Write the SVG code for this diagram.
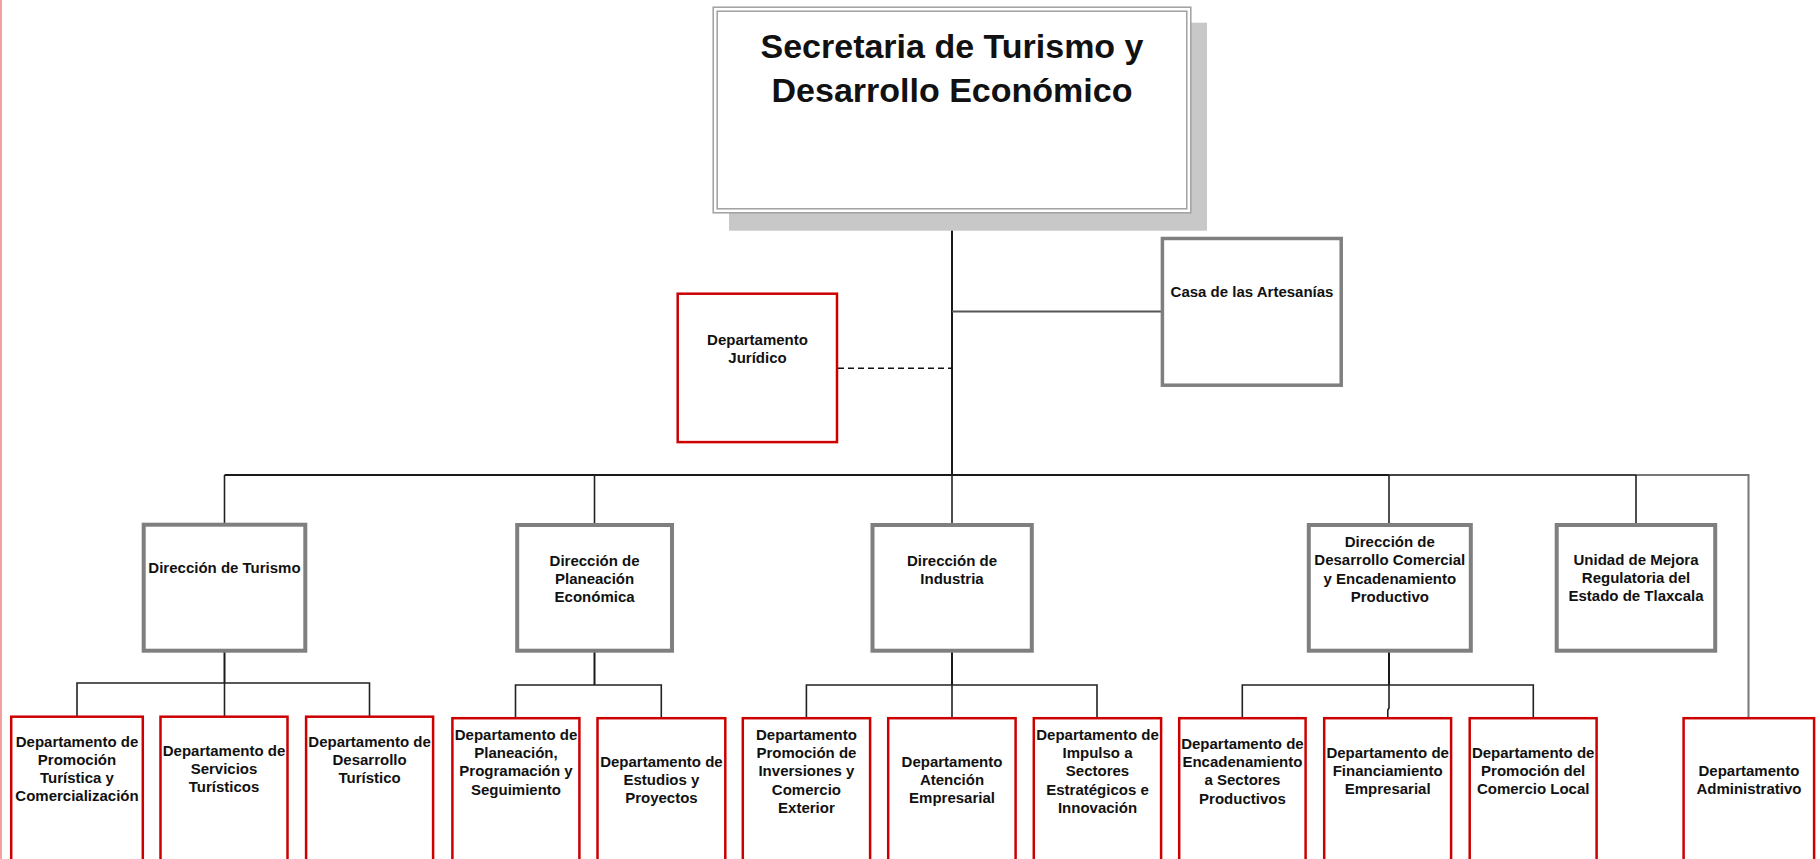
<svg xmlns="http://www.w3.org/2000/svg" width="1820" height="859" viewBox="0 0 1820 859">
<style>
  text { font-family: "Liberation Sans", Arial, sans-serif; font-weight: bold; fill: #111; text-anchor: middle; }
  .t15 { font-size: 15px; }
  .title { font-size: 34px; }
  .dir { fill: #fff; stroke: #7f7f7f; stroke-width: 4; }
  .dept { fill: #fff; stroke: #cc0000; stroke-width: 2.5; }
  .conn { fill: none; stroke: #222; stroke-width: 1.6; }
  .conn2 { fill: none; stroke: #1a1a1a; stroke-width: 2; }
  .gray { fill: none; stroke: #777; stroke-width: 2; }
</style>
<rect x="0" y="0" width="1820" height="859" fill="#fff"/>
<line x1="1" y1="0" x2="1" y2="859" stroke="#f2a0a0" stroke-width="2"/>

<g id="connectors">
  <line class="conn2" x1="952" y1="213" x2="952" y2="475"/>
  <line x1="952" y1="311.5" x2="1161" y2="311.5" stroke="#555" stroke-width="2"/>
  <line x1="838" y1="368.3" x2="952" y2="368.3" stroke="#111" stroke-width="1.5" stroke-dasharray="6 4"/>
  <line class="conn2" x1="224.5" y1="475" x2="1389" y2="475" stroke="#333"/>
  <line x1="1389" y1="475" x2="1636" y2="475" stroke="#444" stroke-width="2"/>
  <path class="gray" d="M1636 475 H1748.5 V717"/>
  <line class="conn" x1="224.5" y1="475" x2="224.5" y2="523"/>
  <line class="conn" x1="594.5" y1="475" x2="594.5" y2="523"/>
  <line class="conn" x1="952" y1="475" x2="952" y2="523"/>
  <line class="conn" x1="1389" y1="475" x2="1389" y2="523"/>
  <line class="conn" x1="1636" y1="475" x2="1636" y2="523"/>
  <!-- Turismo -->
  <line class="conn2" x1="224.5" y1="652" x2="224.5" y2="683"/>
  <path class="conn" d="M77 716 V683 H369.5 V716 M224.5 683 V716"/>
  <!-- Planeacion -->
  <line class="conn2" x1="594.5" y1="652" x2="594.5" y2="685"/>
  <path class="conn" d="M515.5 717 V685 H661.3 V717"/>
  <!-- Industria -->
  <line class="conn2" x1="952" y1="652" x2="952" y2="685"/>
  <path class="conn" d="M806.4 717 V685 H1097 V717 M952 685 V717"/>
  <!-- Comercial -->
  <line class="conn2" x1="1389" y1="652" x2="1389" y2="685"/>
  <path class="conn" d="M1242.3 717 V685 H1533.3 V717 M1389 685 V708 L1387.8 710 V717"/>
</g>

<g id="secretaria">
  <rect x="729" y="22.7" width="478" height="208" fill="#c8c8c8"/>
  <rect x="713.2" y="7.2" width="477.6" height="205.6" fill="#fff" stroke="#a0a0a0" stroke-width="1.5"/>
  <rect x="717.2" y="11.2" width="469.6" height="197.6" fill="none" stroke="#a0a0a0" stroke-width="1.5"/>
  <text class="title" x="952" y="58">Secretaria de Turismo y</text>
  <text class="title" x="952" y="102">Desarrollo Económico</text>
</g>

<g id="casa-artesanias">
  <rect x="1162.4" y="238.5" width="178.8" height="146.7" fill="#fff" stroke="#7f7f7f" stroke-width="3.5"/>
  <text class="t15" x="1252" y="297">Casa de las Artesanías</text>
</g>

<g id="depto-juridico">
  <rect x="677.7" y="293.7" width="159.3" height="148.4" class="dept"/>
  <text class="t15" x="757.5" y="345">Departamento</text>
  <text class="t15" x="757.5" y="363.3">Jurídico</text>
</g>

<g id="dir-turismo">
  <rect class="dir" x="143.7" y="524.7" width="161.6" height="126"/>
  <text class="t15" x="224.5" y="573.3">Dirección de Turismo</text>
</g>
<g id="dir-planeacion">
  <rect class="dir" x="517.2" y="525" width="154.8" height="125.7"/>
  <text class="t15" x="594.6" y="565.5">Dirección de</text>
  <text class="t15" x="594.6" y="583.7">Planeación</text>
  <text class="t15" x="594.6" y="601.9">Económica</text>
</g>
<g id="dir-industria">
  <rect class="dir" x="872.5" y="525" width="159.3" height="125.7"/>
  <text class="t15" x="952" y="565.5">Dirección de</text>
  <text class="t15" x="952" y="583.7">Industria</text>
</g>
<g id="dir-comercial">
  <rect class="dir" x="1308.8" y="525" width="162" height="125.7"/>
  <text class="t15" x="1389.8" y="547.2">Dirección de</text>
  <text class="t15" x="1389.8" y="565.4">Desarrollo Comercial</text>
  <text class="t15" x="1389.8" y="583.6">y Encadenamiento</text>
  <text class="t15" x="1389.8" y="601.8">Productivo</text>
</g>
<g id="unidad-mejora">
  <rect class="dir" x="1556.7" y="525" width="158.5" height="125.7"/>
  <text class="t15" x="1636" y="564.5">Unidad de Mejora</text>
  <text class="t15" x="1636" y="582.7">Regulatoria del</text>
  <text class="t15" x="1636" y="600.9">Estado de Tlaxcala</text>
</g>

<g id="depto-promocion-turistica">
  <rect class="dept" x="11.2" y="716.7" width="131.6" height="160"/>
  <text class="t15" x="77" y="746.5">Departamento de</text>
  <text class="t15" x="77" y="764.7">Promoción</text>
  <text class="t15" x="77" y="782.9">Turística y</text>
  <text class="t15" x="77" y="801.1">Comercialización</text>
</g>
<g id="depto-servicios-turisticos">
  <rect class="dept" x="160.5" y="716.7" width="127" height="160"/>
  <text class="t15" x="224" y="756">Departamento de</text>
  <text class="t15" x="224" y="774.2">Servicios</text>
  <text class="t15" x="224" y="792.4">Turísticos</text>
</g>
<g id="depto-desarrollo-turistico">
  <rect class="dept" x="306.1" y="716.7" width="127" height="160"/>
  <text class="t15" x="369.6" y="747">Departamento de</text>
  <text class="t15" x="369.6" y="765.2">Desarrollo</text>
  <text class="t15" x="369.6" y="783.4">Turístico</text>
</g>
<g id="depto-planeacion-programacion">
  <rect class="dept" x="452.4" y="718.2" width="127" height="160"/>
  <text class="t15" x="516" y="740">Departamento de</text>
  <text class="t15" x="516" y="758.2">Planeación,</text>
  <text class="t15" x="516" y="776.4">Programación y</text>
  <text class="t15" x="516" y="794.6">Seguimiento</text>
</g>
<g id="depto-estudios-proyectos">
  <rect class="dept" x="597.5" y="718.2" width="127.8" height="160"/>
  <text class="t15" x="661.4" y="767">Departamento de</text>
  <text class="t15" x="661.4" y="785.2">Estudios y</text>
  <text class="t15" x="661.4" y="803.4">Proyectos</text>
</g>
<g id="depto-inversiones">
  <rect class="dept" x="742.8" y="718.2" width="127.3" height="160"/>
  <text class="t15" x="806.4" y="740">Departamento</text>
  <text class="t15" x="806.4" y="758.2">Promoción de</text>
  <text class="t15" x="806.4" y="776.4">Inversiones y</text>
  <text class="t15" x="806.4" y="794.6">Comercio</text>
  <text class="t15" x="806.4" y="812.8">Exterior</text>
</g>
<g id="depto-atencion-empresarial">
  <rect class="dept" x="888.2" y="718.2" width="127.4" height="160"/>
  <text class="t15" x="952" y="767">Departamento</text>
  <text class="t15" x="952" y="785.2">Atención</text>
  <text class="t15" x="952" y="803.4">Empresarial</text>
</g>
<g id="depto-impulso-sectores">
  <rect class="dept" x="1033.8" y="718.2" width="127.3" height="160"/>
  <text class="t15" x="1097.5" y="740">Departamento de</text>
  <text class="t15" x="1097.5" y="758.2">Impulso a</text>
  <text class="t15" x="1097.5" y="776.4">Sectores</text>
  <text class="t15" x="1097.5" y="794.6">Estratégicos e</text>
  <text class="t15" x="1097.5" y="812.8">Innovación</text>
</g>
<g id="depto-encadenamiento">
  <rect class="dept" x="1179.2" y="718.2" width="126.4" height="160"/>
  <text class="t15" x="1242.4" y="749">Departamento de</text>
  <text class="t15" x="1242.4" y="767.2">Encadenamiento</text>
  <text class="t15" x="1242.4" y="785.4">a Sectores</text>
  <text class="t15" x="1242.4" y="803.6">Productivos</text>
</g>
<g id="depto-financiamiento">
  <rect class="dept" x="1324.2" y="718.2" width="126.9" height="160"/>
  <text class="t15" x="1387.7" y="758">Departamento de</text>
  <text class="t15" x="1387.7" y="776.2">Financiamiento</text>
  <text class="t15" x="1387.7" y="794.4">Empresarial</text>
</g>
<g id="depto-comercio-local">
  <rect class="dept" x="1469.7" y="718.2" width="126.9" height="160"/>
  <text class="t15" x="1533.2" y="758">Departamento de</text>
  <text class="t15" x="1533.2" y="776.2">Promoción del</text>
  <text class="t15" x="1533.2" y="794.4">Comercio Local</text>
</g>
<g id="depto-administrativo">
  <rect class="dept" x="1683.6" y="718.2" width="130.5" height="160"/>
  <text class="t15" x="1748.9" y="776">Departamento</text>
  <text class="t15" x="1748.9" y="794.2">Administrativo</text>
</g>
</svg>
